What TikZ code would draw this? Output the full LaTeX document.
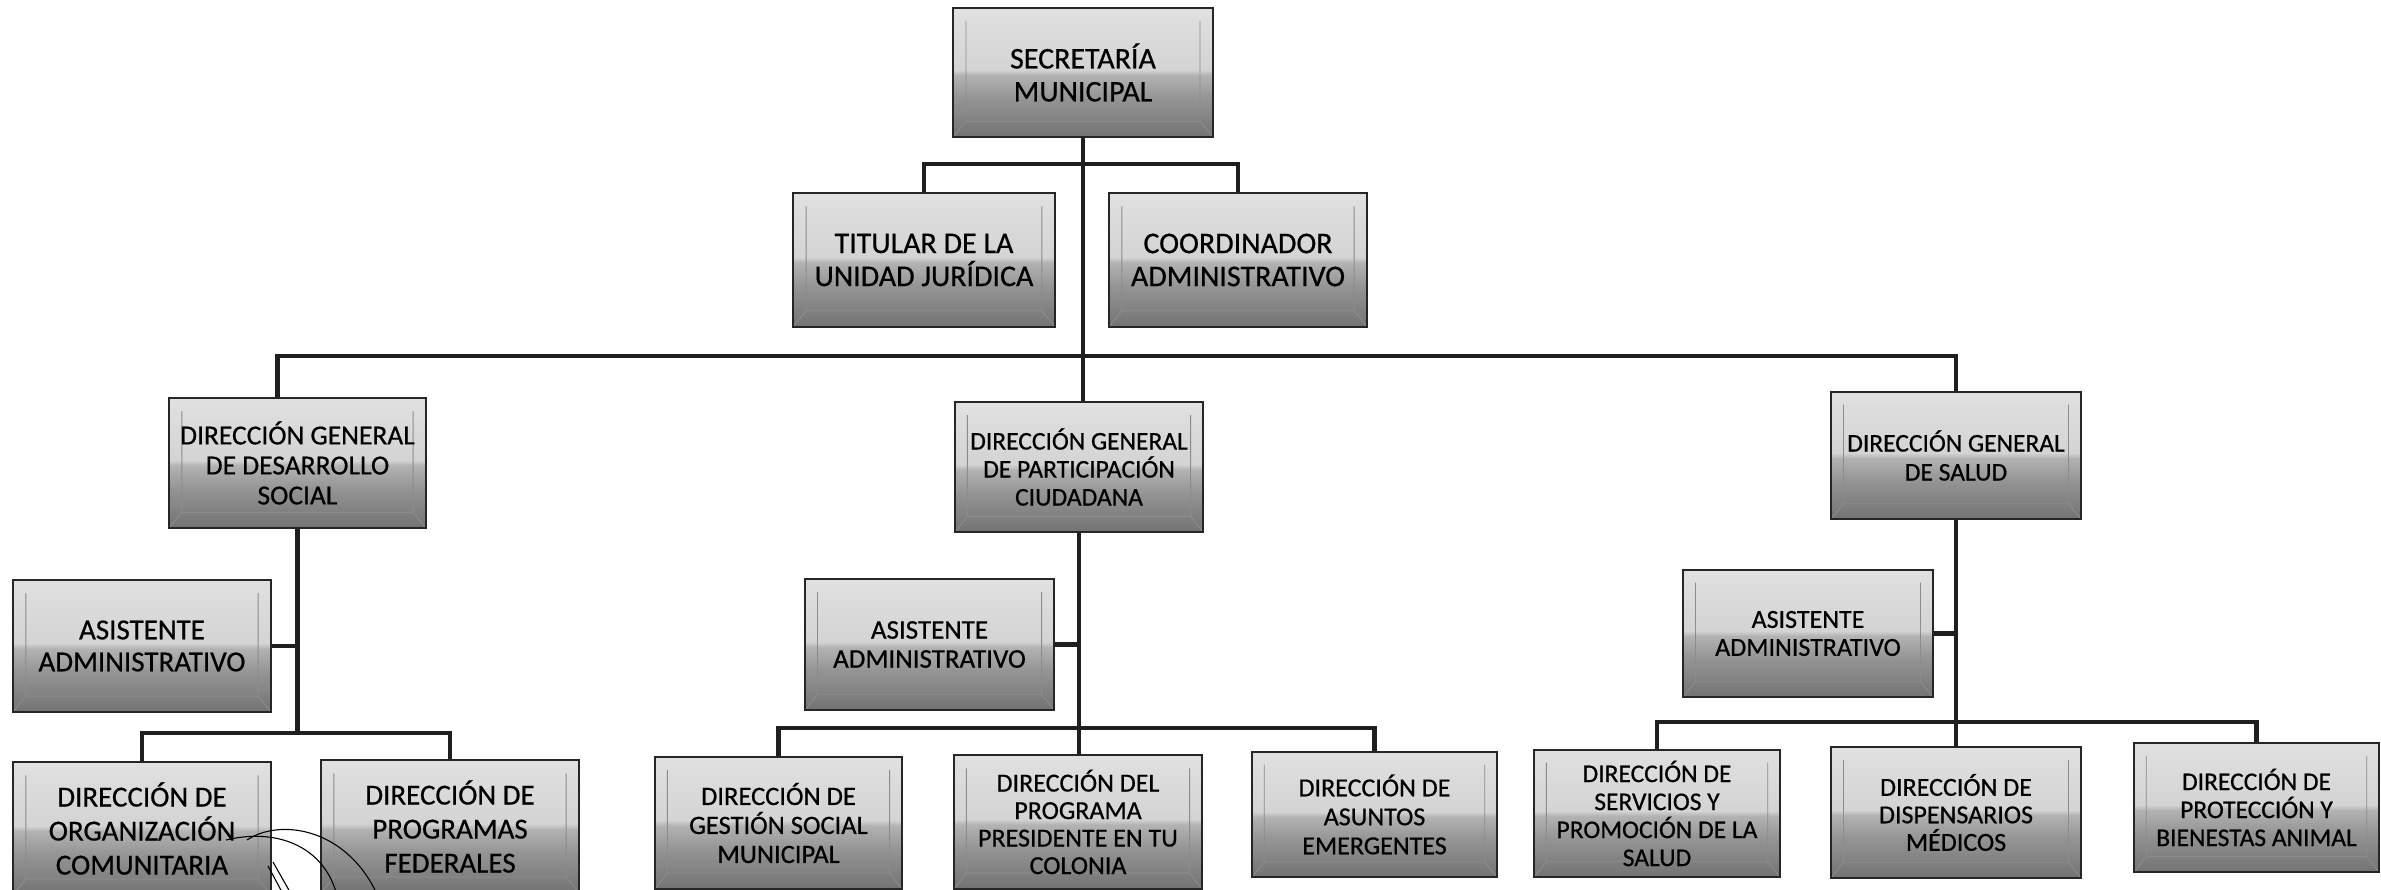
\documentclass[tikz,border=0pt]{standalone}
\usepackage{fontspec}
\setmainfont{Carlito}[FakeBold=0.6]
\usetikzlibrary{calc}
\pgfdeclareverticalshading{bevelshade}{100bp}{color(0bp)=(black!55); color(25bp)=(black!55); color(40bp)=(black!42); color(49bp)=(black!30); color(51bp)=(black!17); color(75bp)=(black!12); color(100bp)=(black!12)}
\newcommand{\fz}[2]{\fontsize{#1}{#2}\selectfont}
\tikzset{
  obox/.style={draw=black!85, line width=1.6pt, shading=bevelshade, align=center, inner sep=0pt, text=black,
    path picture={
      \draw[black!45, line width=0.9pt] let \p1=(path picture bounding box.south west), \p2=(path picture bounding box.north east), \n1={\x2-\x1}, \n2={\y2-\y1} in
        (\x1,\y1) -- (\x1+0.05*\n1,\y1+0.12*\n2) -- (\x1+0.05*\n1,\y2-0.10*\n2)
        (\x2,\y1) -- (\x2-0.05*\n1,\y1+0.12*\n2) -- (\x2-0.05*\n1,\y2-0.10*\n2)
        (\x1+0.05*\n1,\y1+0.12*\n2) -- (\x2-0.05*\n1,\y1+0.12*\n2);
    }},
  conn/.style={line width=4.5pt, draw=black!88},
  scrib/.style={line width=1.1pt, draw=black}
}
\begin{document}
\begin{tikzpicture}[x=1pt,y=-1pt]
\useasboundingbox (0,0) rectangle (2381,889);
\clip (0,0) rectangle (2381,889);
\fill[white] (0,0) rectangle (2381,889);

% level 0 and staff
\node[obox, minimum width=260pt, minimum height=129pt, font=\fz{30}{33}] (sec) at (1083,72.5) {SECRETARÍA\\MUNICIPAL};
\node[obox, minimum width=262pt, minimum height=134pt, font=\fz{30}{33}] (tit) at (924,260) {TITULAR DE LA\\UNIDAD JURÍDICA};
\node[obox, minimum width=258pt, minimum height=134pt, font=\fz{30}{33}] (coord) at (1238,260) {COORDINADOR\\ADMINISTRATIVO};

% general directions
\node[obox, minimum width=257pt, minimum height=130pt, font=\fz{27.5}{30}] (dgds) at (297.5,463) {DIRECCIÓN GENERAL\\DE DESARROLLO\\SOCIAL};
\node[obox, minimum width=248pt, minimum height=130pt, font=\fz{25.5}{28}] (dgpc) at (1079,467) {DIRECCIÓN GENERAL\\DE PARTICIPACIÓN\\CIUDADANA};
\node[obox, minimum width=250pt, minimum height=127pt, font=\fz{25.5}{29}] (dgsal) at (1956,455.5) {DIRECCIÓN GENERAL\\DE SALUD};

% assistants
\node[obox, minimum width=258pt, minimum height=132pt, font=\fz{29}{32}] (asl) at (142,646) {ASISTENTE\\ADMINISTRATIVO};
\node[obox, minimum width=249pt, minimum height=131pt, font=\fz{27}{29}] (asm) at (929.5,644.5) {ASISTENTE\\ADMINISTRATIVO};
\node[obox, minimum width=250pt, minimum height=127pt, font=\fz{26}{28}] (asr) at (1808,633.5) {ASISTENTE\\ADMINISTRATIVO};

% bottom row
\node[obox, minimum width=258pt, minimum height=133pt, font=\fz{29}{34}] (orgcom) at (142,828.5) {DIRECCIÓN DE\\ORGANIZACIÓN\\COMUNITARIA};
\node[obox, minimum width=258pt, minimum height=133pt, font=\fz{29}{34}] (progfed) at (450,826.5) {DIRECCIÓN DE\\PROGRAMAS\\FEDERALES};
\node[obox, minimum width=247pt, minimum height=132pt, font=\fz{26.5}{29}] (gestion) at (778.5,823) {DIRECCIÓN DE\\GESTIÓN SOCIAL\\MUNICIPAL};
\node[obox, minimum width=248pt, minimum height=134pt, font=\fz{26}{27.5}] (progpres) at (1078,822) {DIRECCIÓN DEL\\PROGRAMA\\PRESIDENTE EN TU\\COLONIA};
\node[obox, minimum width=245pt, minimum height=125pt, font=\fz{26}{29}] (asuntos) at (1374.5,814.5) {DIRECCIÓN DE\\ASUNTOS\\EMERGENTES};
\node[obox, minimum width=246pt, minimum height=127pt, font=\fz{25.5}{28}] (serv) at (1657,813.5) {DIRECCIÓN DE\\SERVICIOS Y\\PROMOCIÓN DE LA\\SALUD};
\node[obox, minimum width=250pt, minimum height=131pt, font=\fz{26}{27.5}] (disp) at (1956,812.5) {DIRECCIÓN DE\\DISPENSARIOS\\MÉDICOS};
\node[obox, minimum width=245pt, minimum height=129pt, font=\fz{25.5}{28}] (prot) at (2256.5,807.5) {DIRECCIÓN DE\\PROTECCIÓN Y\\BIENESTAS ANIMAL};

% junctions
\coordinate (j1) at (1083,164);
\coordinate (j2) at (1083,356);
\coordinate (dsin) at ([xshift=-20pt]dgds.north);
\coordinate (j3) at (297.5,733);
\coordinate (j4) at (1079,728);
\coordinate (j5) at (1956,722);

% connectors
\draw[conn] (sec.south) -- (sec.south |- dgpc.north);
\draw[conn] (tit.north) |- (j1) -| (coord.north);
\draw[conn] (dsin) |- (j2) -| (dgsal.north);

\draw[conn] (dgds.south) -- (j3);
\draw[conn] (asl.east) -- (asl.east -| dgds.south);
\draw[conn] (orgcom.north) |- (j3) -| (progfed.north);

\draw[conn] (dgpc.south) -- (dgpc.south |- progpres.north);
\draw[conn] (asm.east) -- (asm.east -| dgpc.south);
\draw[conn] (gestion.north) |- (j4) -| (asuntos.north);

\draw[conn] (dgsal.south) -- (disp.north);
\draw[conn] (asr.east) -- (asr.east -| dgsal.south);
\draw[conn] (serv.north) |- (j5) -| (prot.north);

% hand-drawn marks over the bottom-left boxes
\draw[scrib] (247,840) .. controls (280,818) and (345,828) .. (376,892);
\draw[scrib] (226,840) .. controls (275,828) and (322,845) .. (336,892);
\draw[scrib] (268,866) -- (282,892);
\draw[scrib] (273,862) -- (290,892);
\end{tikzpicture}
\end{document}
